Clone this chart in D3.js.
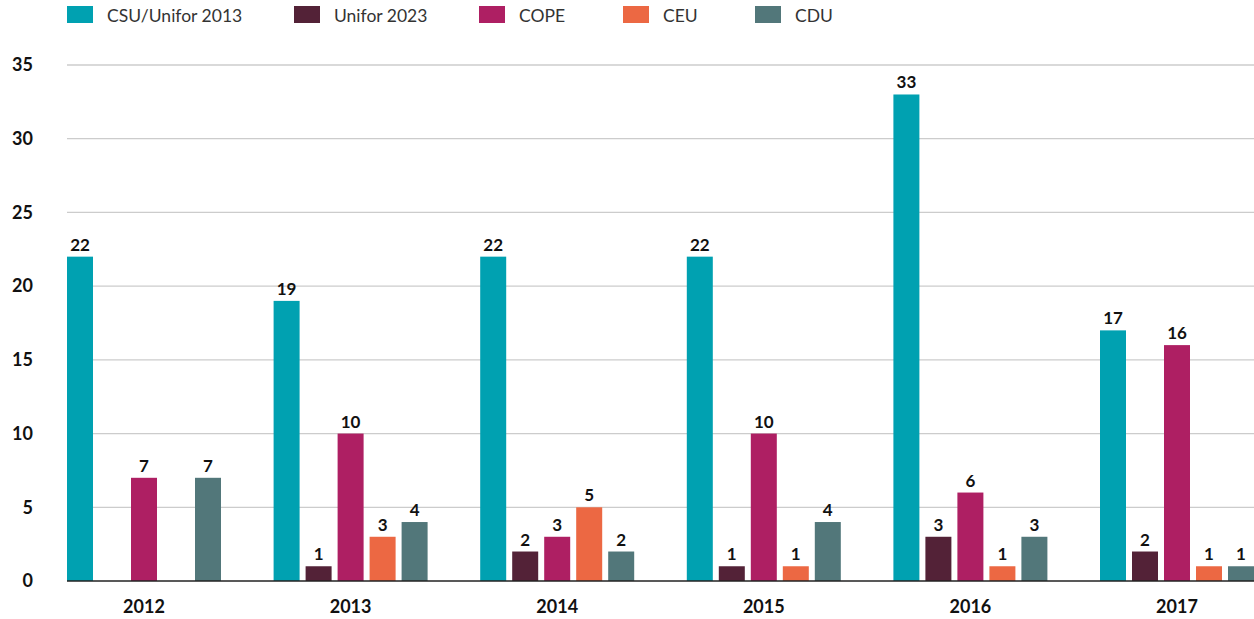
<!DOCTYPE html>
<html lang="en">
<head>
    <meta charset="UTF-8">
    <title>grouped bars</title>
    <script src="https://cdn.jsdelivr.net/npm/d3@7"></script>
    <style>
        body{
            margin: 0;
            background: #ffffff;
        }
        text{
            font-family: Lato, "Open Sans", sans-serif;
        }
        .grid line{
            stroke: #cccccc;
            stroke-width: 1.3px;
        }
        .tick-y{
            font-size: 18px;
            font-weight: 700;
            fill: #111111;
        }
        .tick-x{
            font-size: 18px;
            font-weight: 700;
            fill: #111111;
        }
        .val{
            font-size: 17px;
            font-weight: 700;
            fill: #111111;
        }
        .leg{
            font-size: 17.5px;
            fill: #333333;
        }
    </style>
</head>
<body>
<svg id="chart" width="1254" height="619"></svg>

<script>
    // data
    let years = ["2012", "2013", "2014", "2015", "2016", "2017"];
    let seriesNames = ["CSU/Unifor 2013", "Unifor 2023", "COPE", "CEU", "CDU"];
    let colors = ["#00a1b1", "#532237", "#ae1f63", "#ec6843", "#52777a"];
    let csu = [22, 19, 22, 22, 33, 17];
    let unifor = [null, 1, 2, 1, 3, 2];
    let cope = [7, 10, 3, 10, 6, 16];
    let ceu = [null, 3, 5, 1, 1, 1];
    let cdu = [7, 4, 2, 4, 3, 1];
    let yTicks = [0, 5, 10, 15, 20, 25, 30, 35];

    let allSeries = [csu, unifor, cope, ceu, cdu];

    let svg = d3.select("#chart");

    let plotLeft = 67, plotRight = 1254, plotTop = 65, plotBottom = 581;

    let y = d3.scaleLinear()
        .domain([0, 35])
        .range([plotBottom, plotTop]);

    // centers of year groups
    let x = d3.scalePoint()
        .domain(years)
        .range([144, 1177]);

    let inner = d3.scaleBand()
        .domain(seriesNames)
        .range([-77, 77])
        .paddingInner(0.1875)
        .paddingOuter(0);

    // grid lines
    svg.append("g")
        .attr("class", "grid")
        .selectAll("line")
        .data(yTicks.filter(d => d > 0))
        .enter()
        .append("line")
        .attr("x1", plotLeft)
        .attr("x2", plotRight)
        .attr("y1", d => y(d))
        .attr("y2", d => y(d));

    // y labels
    svg.append("g")
        .selectAll("text")
        .data(yTicks)
        .enter()
        .append("text")
        .attr("class", "tick-y")
        .attr("x", 33)
        .attr("y", d => y(d))
        .attr("dy", "0.35em")
        .attr("text-anchor", "end")
        .text(d => d);

    // bars
    let flat = [];
    years.forEach(function (yr, i) {
        allSeries.forEach(function (s, j) {
            if (s[i] !== null) {
                flat.push({year: yr, name: seriesNames[j], value: s[i], color: colors[j]});
            }
        });
    });

    svg.append("g")
        .selectAll("rect")
        .data(flat)
        .enter()
        .append("rect")
        .attr("x", d => x(d.year) + inner(d.name))
        .attr("width", inner.bandwidth())
        .attr("y", d => y(d.value))
        .attr("height", d => plotBottom - y(d.value))
        .attr("fill", d => d.color);

    svg.append("g")
        .selectAll("text")
        .data(flat)
        .enter()
        .append("text")
        .attr("class", "val")
        .attr("x", d => x(d.year) + inner(d.name) + inner.bandwidth() / 2)
        .attr("y", d => y(d.value) - 6)
        .attr("text-anchor", "middle")
        .text(d => d.value);

    // baseline
    svg.append("line")
        .attr("x1", plotLeft)
        .attr("x2", plotRight)
        .attr("y1", plotBottom)
        .attr("y2", plotBottom)
        .attr("stroke", "#222222")
        .attr("stroke-width", 1.5);

    // x labels
    svg.append("g")
        .selectAll("text")
        .data(years)
        .enter()
        .append("text")
        .attr("class", "tick-x")
        .attr("x", d => x(d))
        .attr("y", 613)
        .attr("text-anchor", "middle")
        .text(d => d);

    // legend
    let legX = [67, 294, 479, 623, 755];
    let leg = svg.append("g")
        .selectAll("g")
        .data(seriesNames)
        .enter()
        .append("g")
        .attr("transform", (d, i) => "translate(" + legX[i] + ",6)");
    leg.append("rect")
        .attr("width", 26)
        .attr("height", 17)
        .attr("fill", (d, i) => colors[i]);
    leg.append("text")
        .attr("class", "leg")
        .attr("x", 40)
        .attr("y", 16)
        .text(d => d);
</script>
</body>
</html>
